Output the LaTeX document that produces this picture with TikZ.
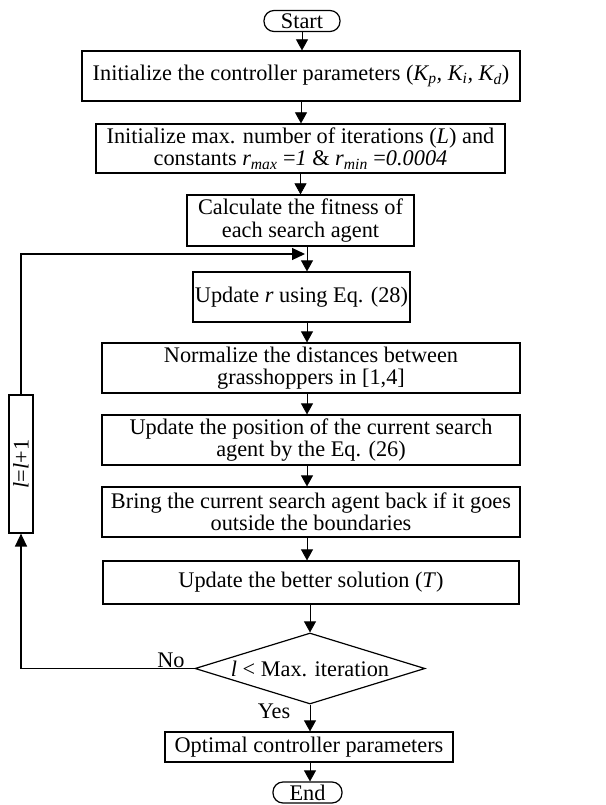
\documentclass[tikz,border=0pt]{standalone}
\usepackage{fontspec}
\setmainfont{Liberation Serif}
\usetikzlibrary{shapes.geometric,arrows.meta}

\begin{document}
\begin{tikzpicture}[x=1pt, y=-1pt, font=\fontsize{22.3}{22.5}\selectfont,
  box/.style = {draw, line width=1.2pt, align=center, inner sep=0pt},
  term/.style = {draw, line width=1.2pt, rounded corners=10pt, inner sep=0pt},
  cond/.style = {draw, diamond, line width=1.2pt, inner sep=0pt, aspect=3.2},
  flow/.style = {line width=0.7pt, -{Triangle[length=11pt,width=12pt]}},
  feedback/.style = {line width=1.3pt, -{Triangle[length=13pt,width=12pt]}}]
  \useasboundingbox (0,0) rectangle (605,805);
  % main column
  \node[term, minimum width=76pt, minimum height=21pt] (start) at (302,21) {Start};
  \node[box, minimum width=438pt, minimum height=50pt] (init) at (301,76)
    {Initialize the controller parameters (\textit{K\textsubscript{p}, K\textsubscript{i}, K\textsubscript{d}})};
  \node[box, minimum width=409pt, minimum height=49pt] (iter) at (300.5,148.5)
    {Initialize max. number of iterations (\textit{L}) and\\
     constants \textit{r\textsubscript{max}} =\textit{1} \& \textit{r\textsubscript{min}} =\textit{0.0004}};
  \node[box, minimum width=227pt, minimum height=51pt] (fit) at (300.5,220.5)
    {Calculate the fitness of\\each search agent};
  \node[box, minimum width=217pt, minimum height=50pt] (upr) at (301.5,297)
    {Update \textit{r} using Eq. (28)};
  \node[box, minimum width=418pt, minimum height=50pt] (norm) at (311,368)
    {Normalize the distances between\\grasshoppers in [1,4]};
  \node[box, minimum width=418pt, minimum height=50pt] (pos) at (311,440)
    {Update the position of the current search\\agent by the Eq. (26)};
  \node[box, minimum width=418pt, minimum height=50pt] (bring) at (311,512)
    {Bring the current search agent back if it goes\\outside the boundaries};
  \node[box, minimum width=416pt, minimum height=43pt] (best) at (311,582.5)
    {Update the better solution (\textit{T})};
  \node[cond, minimum width=230pt, minimum height=71pt] (dec) at (310,668.5)
    {\textit{l} < Max. iteration};
  \node[box, minimum width=288pt, minimum height=30pt] (opt) at (309,747)
    {Optimal controller parameters};
  \node[term, minimum width=69pt, minimum height=21pt] (end) at (307.5,792.5) {End};
  % loop counter
  \node[box, rotate=90, minimum width=138pt, minimum height=24pt] (inc) at (21,464)
    {\textit{l}=\textit{l}+1};
  \node (no) at (171,660) {No};
  \node (yes) at (274,711) {Yes};
  \coordinate (spine) at (307,0);
  \coordinate (join) at (305,254);
  % connectors
  \draw[flow] (start.south) -- (start.south |- init.north);
  \draw[flow] (init.south) -- (init.south |- iter.north);
  \draw[flow] (iter.south) -- (iter.south |- fit.north);
  \draw[flow] (fit.south -| spine) -- (upr.north -| spine);
  \draw[flow] (upr.south -| spine) -- (norm.north -| spine);
  \draw[flow] (norm.south -| spine) -- (pos.north -| spine);
  \draw[flow] (pos.south -| spine) -- (bring.north -| spine);
  \draw[flow] (bring.south -| spine) -- (best.north -| spine);
  \draw[flow] (best.south -| dec) -- (dec.north);
  \draw[flow] (dec.south) -- (dec.south |- opt.north);
  \draw[flow] (opt.south -| dec) -- (end.north -| dec);
  \draw[feedback] (dec.west) -- (dec.west -| inc.west) -- (inc.west);
  \draw[feedback] (inc.east) |- (join);
\end{tikzpicture}
\end{document}
